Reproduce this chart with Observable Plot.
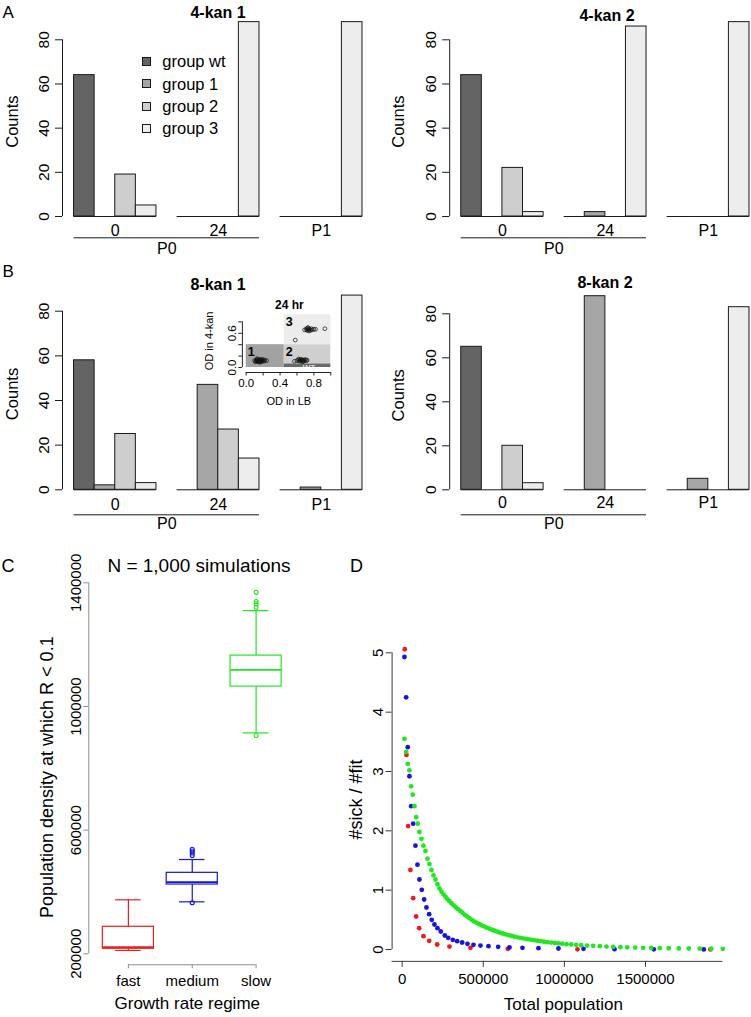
<!DOCTYPE html>
<html><head><meta charset="utf-8">
<script src="https://cdn.jsdelivr.net/npm/d3@7"></script>
<script src="https://cdn.jsdelivr.net/npm/@observablehq/plot@0.6"></script>
<style>
body{margin:0;background:#fff;overflow:hidden}
#fig{position:relative;width:751px;height:1017px;font-family:"Liberation Sans",Arial,Helvetica,sans-serif;color:#000;overflow:hidden}
.lbl{position:absolute;white-space:nowrap;line-height:1}
.sw{position:absolute;width:7px;height:7px;border:1px solid #1a1a1a}
</style></head><body><div id="fig"></div>
<script>
// ---------------- DATA ----------------
// Panels A/B: bar counts [timepoint][group]
const timepoints = ["0", "24", "P1"];
const passageLabel = "P0";
const groupNames = ["group wt", "group 1", "group 2", "group 3"];
const countTicks = [0, 20, 40, 60, 80];
const kan4rep1 = [[64, 0, 19, 5], [0, 0, 0, 88], [0, 0, 0, 88]];
const kan4rep2 = [[64, 0, 22, 2], [0, 2, 0, 86], [0, 0, 0, 88]];
const kan8rep1 = [[58, 2, 25, 3], [0, 47, 27, 14], [0, 1, 0, 87]];
const kan8rep2 = [[65, 0, 20, 3], [0, 88, 0, 0], [0, 5, 0, 83]];

// Inset (24 hr)
const insetRegionLabels = ["1", "2", "3", "WT"];
const insetRegionX1 = [0, 0.45, 0.45, 0.45];
const insetRegionX2 = [0.45, 1, 1, 1];
const insetRegionY1 = [0, 0, 0.4, 0];
const insetRegionY2 = [0.4, 0.4, 0.925, 0.06];
const insetODLB = [0.10,0.11,0.12,0.12,0.13,0.13,0.14,0.14,0.15,0.15,0.16,0.16,0.17,0.17,0.18,0.18,0.19,0.20,0.21,0.22,0.24,0.13,0.16,0.19,
  0.57,0.60,0.62,0.63,0.64,0.64,0.65,0.66,0.66,0.67,0.68,0.69,0.70,0.71,0.72,0.62,0.67,
  0.69,0.71,0.72,0.72,0.73,0.74,0.74,0.75,0.76,0.77,0.78,0.80,0.82,0.73,0.93,0.58];
const insetOD4kan = [0.12,0.10,0.13,0.11,0.12,0.14,0.10,0.12,0.13,0.11,0.12,0.14,0.11,0.13,0.12,0.10,0.13,0.12,0.11,0.13,0.12,0.155,0.09,0.145,
  0.11,0.12,0.13,0.11,0.14,0.12,0.13,0.11,0.14,0.12,0.13,0.12,0.14,0.12,0.13,0.15,0.10,
  0.66,0.67,0.65,0.69,0.66,0.68,0.64,0.67,0.65,0.68,0.66,0.67,0.67,0.70,0.68,0.48];
const insetXTicks = [0, 0.2, 0.4, 0.6, 0.8, 1.0];
const insetXLabelled = [0, 0.4, 0.8];
const insetYTicks = [0, 0.2, 0.4, 0.6, 0.8];
const insetYLabelled = [0, 0.6];

// Panel C: box-plot summaries
const regimes = ["fast", "medium", "slow"];
const boxQ1 = [216200, 424100, 1064400];
const boxMedian = [221300, 431500, 1118400];
const boxQ3 = [287300, 461900, 1164600];
const whiskerLow = [210700, 368100, 914600];
const whiskerHigh = [374600, 504900, 1310100];
const outliersFast = [];
const outliersMedium = [538200, 532400, 526000, 517900, 364900];
const outliersSlow = [1369300, 1339200, 1331800, 1320800, 906000];
const densityTicks = [200000, 600000, 1000000, 1400000];

// Panel D: ratio vs total population
const redX = [16000, 26500, 37000, 51000, 67700, 86300, 104800, 131300, 166400, 215800, 291600, 421000, 651000, 1080700, 1900000];
const redY = [5.06, 3.28, 2.08, 1.34, 0.865, 0.556, 0.36, 0.225, 0.146, 0.084, 0.05, 0.028, 0.011, 0.003, 0.001];
const blueX = [14200, 24700, 34500, 45000, 55500, 67800, 82000, 94300, 106600, 120900, 135600, 149800, 166400, 182500, 199100, 217600, 238000, 262700, 283600, 312000, 339000, 369900, 402600, 439600, 482700, 532000, 591800, 661500, 741700, 840400, 963600, 1117800, 1309000, 1551200, 1859500];
const blueY = [4.93, 4.25, 3.41, 2.92, 2.415, 2.12, 1.75, 1.43, 1.18, 1.006, 0.843, 0.708, 0.595, 0.5, 0.421, 0.36, 0.303, 0.236, 0.197, 0.163, 0.14, 0.118, 0.096, 0.079, 0.067, 0.056, 0.045, 0.034, 0.028, 0.022, 0.017, 0.011, 0.006, 0.003, 0.002];
const greenX = [14200, 24700, 34500, 45000, 55500, 65500, 75800, 86300, 96200, 106600, 119000, 131300, 143600, 156000, 168300, 180600, 193000,
  205300, 217600, 230000, 242300, 254600, 266900, 279300, 291600, 303900, 317500, 331100, 344600, 358200, 371700, 385900, 400100, 414300, 428500, 442600, 458100, 473500, 488900, 504300, 519700, 536400, 553000, 569600, 586300, 602900, 620800, 638700, 656600, 674500, 692300, 712100, 731800, 751500, 771200, 791000, 811900, 832900, 853900, 874800, 895800, 918600, 941400, 963600,
  986400, 1012900, 1041900, 1072700, 1103500, 1140500, 1177500, 1218200, 1259500, 1300800, 1345800, 1387100, 1436400, 1485800, 1535100, 1588100, 1643600, 1705300, 1766900, 1834800, 1905000, 1976600];
const greenY = [3.55, 3.33, 3.13, 3.02, 2.75, 2.61, 2.415, 2.23, 2.12, 1.98, 1.865, 1.75, 1.66, 1.53, 1.44, 1.34, 1.25,
  1.18, 1.10, 1.03, 0.973, 0.93, 0.89, 0.849, 0.815, 0.78, 0.745, 0.71, 0.68, 0.65, 0.62, 0.585, 0.557, 0.53, 0.50, 0.475, 0.452, 0.43, 0.408, 0.39, 0.37, 0.352, 0.334, 0.316, 0.30, 0.284, 0.27, 0.255, 0.242, 0.229, 0.217, 0.206, 0.195, 0.185, 0.174, 0.166, 0.157, 0.148, 0.14, 0.131, 0.123, 0.117, 0.111, 0.104,
  0.098, 0.09, 0.084, 0.078, 0.072, 0.067, 0.062, 0.056, 0.05, 0.045, 0.04, 0.036, 0.032, 0.029, 0.026, 0.023, 0.021, 0.019, 0.017, 0.015, 0.013, 0.012];
const ratioTicks = [0, 1, 2, 3, 4, 5];
const popTicks = [0, 500000, 1000000, 1500000];

// ---------------- STYLE / LAYOUT ----------------
const W = 751, H = 1017;
const FONT = '"Liberation Sans", Arial, Helvetica, sans-serif';
const groupFills = ["#646464", "#a6a6a6", "#cecece", "#ededed"];
const regimeColors = ["#ee1c1c", "#1616dc", "#22e622"];
const insetFills = ["#a2a2a2", "#cfcfcf", "#ececec", "#696969"];
const insetTextFills = ["#000", "#000", "#000", "#fff"];
const SVG_STYLE = `position:absolute;left:0;top:0;background:transparent;overflow:visible;font-family:${FONT};max-width:none;`;
const fig = document.getElementById("fig");

function frame(x0, x1, y0, y1) {
  return {width: W, height: H, marginLeft: x0, marginRight: W - x1, marginTop: y1, marginBottom: H - y0, style: SVG_STYLE};
}
function label(text, {x, base, size, weight = "normal", anchor = "middle", color = "#000"}) {
  const d = document.createElement("div");
  d.className = "lbl";
  d.textContent = text;
  d.style.fontSize = size + "px";
  d.style.fontWeight = weight;
  d.style.color = color;
  d.style.top = (base - 0.8465 * size) + "px";
  d.style.left = x + "px";
  if (anchor === "middle") d.style.transform = "translateX(-50%)";
  fig.appendChild(d);
}

// ---------------- BAR PANELS ----------------
const SLOT_LO = 0.44, SLOT_HI = 15;
function barPanel(counts, L) {
  const rows = counts.flatMap((vals, ti) => vals.map((v, gi) => ({group: groupNames[gi], value: v, slot: ti * 5 + gi + 1})));
  const tps = timepoints.map((t, ti) => ({t, start: ti * 5 + 1, end: ti * 5 + 5}));
  const svg = Plot.plot({
    ...frame(L.axisX, L.x15, L.y0, L.y80),
    x: {domain: [SLOT_LO, SLOT_HI], axis: null},
    y: {domain: [0, 80], axis: null},
    color: {domain: groupNames, range: groupFills},
    marks: [
      Plot.rect(rows.filter(d => d.value > 0), {x1: "slot", x2: d => d.slot + 1, y1: 0, y2: "value", fill: "group", stroke: "#1a1a1a", strokeWidth: 1}),
      Plot.ruleY(tps, {y: 0, x1: "start", x2: "end", stroke: "#1a1a1a", strokeWidth: 1}),
      Plot.ruleX([SLOT_LO], {y1: countTicks[0], y2: countTicks[countTicks.length - 1], stroke: "#1a1a1a"}),
      Plot.axisY(countTicks, {tickSize: 7, tickPadding: 6.5, tickRotate: -90, fontSize: 15.5, label: null, stroke: "#1a1a1a"}),
      Plot.text(tps, {x: d => (d.start + d.end) / 2, y: 0, dy: L.tickDy, text: "t", lineAnchor: "middle", fontSize: 16}),
      Plot.ruleY([passageLabel], {y: 0, dy: L.lineDy, x1: tps[0].start, x2: tps[1].end, stroke: "#1a1a1a"}),
      Plot.text([passageLabel], {x: (tps[0].start + tps[1].end) / 2, y: 0, dy: L.p0Dy, text: d => d, lineAnchor: "middle", fontSize: 16}),
      Plot.text(["Counts"], {frameAnchor: "left", dx: -L.countsDx, dy: -6.5, rotate: -90, textAnchor: "middle", lineAnchor: "bottom", fontSize: 16.5, text: d => d})
    ]
  });
  fig.appendChild(svg);
}

barPanel(kan4rep1, {axisX: 62, x15: 362, y0: 216, y80: 39.3, tickDy: 14.5, lineDy: 21.3, p0Dy: 32.3, countsDx: 45});
barPanel(kan4rep2, {axisX: 449.2, x15: 749, y0: 216, y80: 39.3, tickDy: 14.5, lineDy: 21.3, p0Dy: 32.3, countsDx: 46});
barPanel(kan8rep1, {axisX: 62, x15: 362, y0: 489.3, y80: 310.7, tickDy: 15, lineDy: 25, p0Dy: 34, countsDx: 45});
barPanel(kan8rep2, {axisX: 449.2, x15: 749, y0: 489.3, y80: 313.3, tickDy: 13.5, lineDy: 25, p0Dy: 34, countsDx: 46});

// ---------------- INSET ----------------
{
  const regions = insetRegionLabels.map((l, i) => ({label: l, x1: insetRegionX1[i], x2: insetRegionX2[i], y1: insetRegionY1[i], y2: insetRegionY2[i], fill: insetFills[i], tfill: insetTextFills[i]}));
  const xlo = -0.045, ylo = -0.0875;
  const svg = Plot.plot({
    ...frame(241.9, 333.7, 372, 312.8),
    x: {domain: [xlo, 1.04], axis: null},
    y: {domain: [ylo, 0.95], axis: null},
    color: {type: "identity"},
    marks: [
      Plot.rect(regions, {x1: "x1", x2: "x2", y1: "y1", y2: "y2", fill: "fill"}),
      Plot.dot(insetODLB, {x: insetODLB, y: insetOD4kan, r: 1.9, stroke: "#111", strokeWidth: 0.7, fill: "none"}),
      Plot.text(regions.slice(0, 3), {x: "x1", y: "y2", text: "label", dx: 1.5, dy: 2, textAnchor: "start", lineAnchor: "top", fontWeight: "bold", fontSize: 12.5, fill: "tfill"}),
      Plot.text(regions.slice(3), {x: d => (d.x1 + d.x2) / 2, y: "y1", text: "label", dx: 1.5, dy: 2.5, lineAnchor: "bottom", fontSize: 8, fill: "tfill"}),
      Plot.ruleX([xlo], {y1: 0, y2: 0.8, stroke: "#222"}),
      Plot.axisY(insetYTicks, {tickSize: 3.6, tickPadding: 3, tickRotate: -90, fontSize: 11.5, label: null, tickFormat: d => insetYLabelled.includes(d) ? d.toFixed(1) : "", stroke: "#222"}),
      Plot.ruleY([ylo], {x1: 0, x2: 1, stroke: "#222"}),
      Plot.axisX(insetXTicks, {tickSize: 3.5, tickPadding: 3, fontSize: 11.5, label: null, tickFormat: d => insetXLabelled.includes(d) ? d.toFixed(1) : "", stroke: "#222"}),
      Plot.text(["OD in 4-kan"], {frameAnchor: "left", dx: -29, dy: -2, rotate: -90, textAnchor: "middle", lineAnchor: "bottom", fontSize: 11, text: d => d}),
      Plot.text(["OD in LB"], {frameAnchor: "bottom", dx: 0.5, dy: 32, lineAnchor: "bottom", fontSize: 11, text: d => d}),
      Plot.text(["24 hr"], {frameAnchor: "top", dx: 1, dy: -4.5, lineAnchor: "bottom", fontSize: 12, fontWeight: "bold", text: d => d})
    ]
  });
  fig.appendChild(svg);
}

// ---------------- PANEL C ----------------
{
  const cXlo = 0.38, cXhi = 3.62;
  const cYdom = [164356, 1415644];
  const boxes = regimes.map((r, i) => ({regime: r, i: i + 1, q1: boxQ1[i], med: boxMedian[i], q3: boxQ3[i], lo: whiskerLow[i], hi: whiskerHigh[i]}));
  const outl = [outliersFast, outliersMedium, outliersSlow].flatMap((arr, k) => arr.map(v => ({regime: regimes[k], i: k + 1, v})));
  const AX = "#8f8f8f";
  const svg = Plot.plot({
    ...frame(88.3, 295.2, 964.3, 577.5),
    x: {domain: [cXlo, cXhi], axis: null},
    y: {domain: cYdom, axis: null},
    color: {domain: regimes, range: regimeColors},
    marks: [
      Plot.ruleX(boxes, {x: "i", y1: "q3", y2: "hi", stroke: "regime", strokeWidth: 1.2}),
      Plot.ruleX(boxes, {x: "i", y1: "lo", y2: "q1", stroke: "regime", strokeWidth: 1.2}),
      Plot.ruleY(boxes, {y: "hi", x1: d => d.i - 0.2, x2: d => d.i + 0.2, stroke: "regime", strokeWidth: 1.2}),
      Plot.ruleY(boxes, {y: "lo", x1: d => d.i - 0.2, x2: d => d.i + 0.2, stroke: "regime", strokeWidth: 1.2}),
      Plot.rect(boxes, {x1: d => d.i - 0.4, x2: d => d.i + 0.4, y1: "q1", y2: "q3", fill: "white", stroke: "regime", strokeWidth: 1.2}),
      Plot.ruleY(boxes, {y: "med", x1: d => d.i - 0.4, x2: d => d.i + 0.4, stroke: "regime", strokeWidth: 1.8}),
      Plot.dot(outl, {x: "i", y: "v", r: 2, stroke: "regime", fill: "none", strokeWidth: 1.1}),
      Plot.ruleX([cXlo], {y1: densityTicks[0], y2: densityTicks[densityTicks.length - 1], stroke: AX}),
      Plot.axisY(densityTicks, {tickSize: 5, tickPadding: 3.3, tickRotate: -90, fontSize: 15, label: null, tickFormat: d => d.toFixed(0), stroke: AX, fill: "#000"}),
      Plot.ruleY([cYdom[0]], {x1: 1, x2: regimes.length, stroke: AX}),
      Plot.axisX(regimes.map((r, i) => i + 1), {tickSize: 4, tickPadding: 6.7, fontSize: 15, label: null, tickFormat: i => regimes[i - 1], stroke: AX, fill: "#000"}),
      Plot.text(["Growth rate regime"], {frameAnchor: "bottom", dx: -5, dy: 44.2, lineAnchor: "bottom", fontSize: 17, text: d => d}),
      Plot.text(["Population density at which R < 0.1"], {frameAnchor: "left", dx: -36.3, dy: 5.8, rotate: -90, textAnchor: "middle", lineAnchor: "bottom", fontSize: 18, text: d => d})
    ]
  });
  fig.appendChild(svg);
}

// ---------------- PANEL D ----------------
{
  const dXlo = -62000, dYlo = -0.2;
  const allX = [...redX, ...blueX, ...greenX];
  const AX = "#3a3a3a";
  const svg = Plot.plot({
    ...frame(391.6, 726.1, 960.87, 636.9),
    x: {domain: [dXlo, 2000000], axis: null},
    y: {domain: [dYlo, 5.26], axis: null},
    marks: [
      Plot.dot(redX, {x: redX, y: redY, r: 2.4, fill: regimeColors[0]}),
      Plot.dot(blueX, {x: blueX, y: blueY, r: 2.4, fill: regimeColors[1]}),
      Plot.dot(greenX, {x: greenX, y: greenY, r: 2.4, fill: regimeColors[2]}),
      Plot.ruleX([dXlo], {y1: ratioTicks[0], y2: ratioTicks[ratioTicks.length - 1], stroke: AX}),
      Plot.axisY(ratioTicks, {tickSize: 6, tickPadding: 3, tickRotate: -90, fontSize: 15, label: null, tickFormat: d => String(d), stroke: AX, fill: "#000"}),
      Plot.ruleY([dYlo], {x1: dXlo, x2: d3.max(allX), stroke: AX}),
      Plot.axisX(popTicks, {tickSize: 6, tickPadding: 6, fontSize: 15, label: null, tickFormat: d => d.toFixed(0), stroke: AX, fill: "#000"}),
      Plot.text(["Total population"], {frameAnchor: "bottom", dx: 4, dy: 48.6, lineAnchor: "bottom", fontSize: 17, text: d => d}),
      Plot.text(["#sick / #fit"], {frameAnchor: "left", dx: -30, rotate: -90, textAnchor: "middle", lineAnchor: "bottom", fontSize: 18, text: d => d})
    ]
  });
  fig.appendChild(svg);
}

// ---------------- TITLES, PANEL LETTERS, LEGEND ----------------
label("A", {x: 2.5, base: 18.3, size: 17, anchor: "start"});
label("B", {x: 2.5, base: 277.5, size: 17, anchor: "start"});
label("C", {x: 1.5, base: 572, size: 18, anchor: "start"});
label("D", {x: 350, base: 572, size: 18, anchor: "start"});
label("4-kan 1", {x: 218, base: 18.5, size: 16, weight: "bold"});
label("4-kan 2", {x: 607, base: 21.5, size: 16, weight: "bold"});
label("8-kan 1", {x: 218, base: 291, size: 16, weight: "bold"});
label("8-kan 2", {x: 605, base: 289, size: 16, weight: "bold"});
label("N = 1,000 simulations", {x: 199, base: 572, size: 19});

groupNames.forEach((g, i) => {
  const cy = 61.2 + i * 22.4;
  const sw = document.createElement("div");
  sw.className = "sw";
  sw.style.left = "141.7px";
  sw.style.top = (cy - 4.5) + "px";
  sw.style.background = groupFills[i];
  fig.appendChild(sw);
  label(g, {x: 162.3, base: cy + 5.9, size: 16.5, anchor: "start"});
});
</script></body></html>
